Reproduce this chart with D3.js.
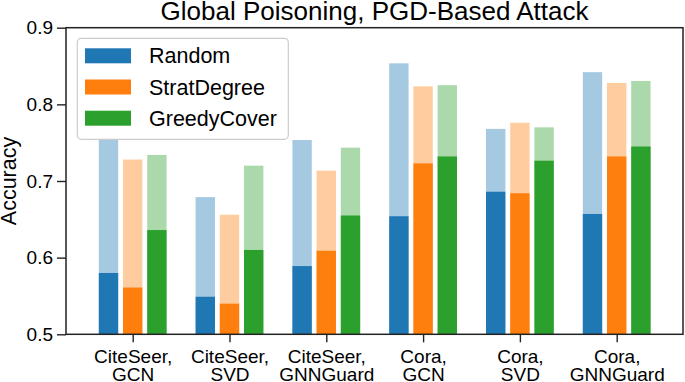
<!DOCTYPE html>
<html lang="en">
<head>
  <meta charset="UTF-8">
  <title>Global Poisoning, PGD-Based Attack</title>
  <script src="https://d3js.org/d3.v7.min.js"></script>
  <style>
    body { margin: 0; background: #fff; }
    text { font-family: "Liberation Sans", Arial, Helvetica, sans-serif; fill: #000; }
  </style>
</head>
<body>
  <svg width="685" height="382"></svg>
  <script>
    // data
    var categories = ["CiteSeer,\nGCN", "CiteSeer,\nSVD", "CiteSeer,\nGNNGuard", "Cora,\nGCN", "Cora,\nSVD", "Cora,\nGNNGuard"];
    var seriesNames = ["Random", "StratDegree", "GreedyCover"];
    var colors = ["#1f77b4", "#ff7f0e", "#2ca02c"];

    // light bars (clean accuracy) and dark bars (after poisoning)
    var randomClean = [0.755, 0.679, 0.7535, 0.8535, 0.768, 0.842];
    var randomPois = [0.580, 0.549, 0.589, 0.654, 0.686, 0.657];
    var stratClean = [0.728, 0.656, 0.7135, 0.8235, 0.776, 0.828];
    var stratPois = [0.561, 0.540, 0.609, 0.723, 0.684, 0.732];
    var greedyClean = [0.734, 0.720, 0.7435, 0.825, 0.770, 0.8305];
    var greedyPois = [0.636, 0.610, 0.655, 0.732, 0.7265, 0.745];

    var yTicks = [0.5, 0.6, 0.7, 0.8, 0.9];

    var clean = [randomClean, stratClean, greedyClean];
    var pois = [randomPois, stratPois, greedyPois];

    var svg = d3.select("svg");
    var marge = { top: 27.7, bottom: 334.3, left: 66, right: 683 };

    var x = d3.scaleLinear().domain([-0.689, 5.685]).range([marge.left, marge.right]);
    var y = d3.scaleLinear().domain([0.5, 0.9]).range([marge.bottom, marge.top]);

    var barW = 0.2, offset = 0.25;

    // flatten into rows for drawing
    var rows = [];
    seriesNames.forEach(function (s, si) {
      categories.forEach(function (c, ci) {
        rows.push({ s: si, c: ci, clean: clean[si][ci], pois: pois[si][ci] });
      });
    });

    var g = svg.append("g");

    // light bars
    g.selectAll(".light").data(rows).enter().append("rect")
      .attr("x", function (d) { return x(d.c + (d.s - 1) * offset - barW / 2); })
      .attr("width", function () { return x(barW) - x(0); })
      .attr("y", function (d) { return y(d.clean); })
      .attr("height", function (d) { return y(0.5) - y(d.clean); })
      .attr("fill", function (d) { return colors[d.s]; })
      .attr("fill-opacity", 0.4);

    // dark bars
    g.selectAll(".dark").data(rows).enter().append("rect")
      .attr("x", function (d) { return x(d.c + (d.s - 1) * offset - barW / 2); })
      .attr("width", function () { return x(barW) - x(0); })
      .attr("y", function (d) { return y(d.pois); })
      .attr("height", function (d) { return y(0.5) - y(d.pois); })
      .attr("fill", function (d) { return colors[d.s]; });

    // y axis
    var yAxis = d3.axisLeft(y).tickValues(yTicks).tickFormat(d3.format(".1f")).tickSize(9).tickPadding(4);
    var ya = svg.append("g").attr("transform", "translate(" + marge.left + ",0)").call(yAxis);
    ya.select(".domain").remove();
    ya.selectAll("line").attr("stroke", "#222").attr("stroke-width", 1.4);
    ya.selectAll("text").style("font-size", "19px").attr("fill", "#000");

    // x axis
    var xAxis = d3.axisBottom(x).tickValues(d3.range(categories.length)).tickSize(8).tickFormat("");
    var xa = svg.append("g").attr("transform", "translate(0," + marge.bottom + ")").call(xAxis);
    xa.select(".domain").remove();
    xa.selectAll("line").attr("stroke", "#222").attr("stroke-width", 1.4);
    xa.selectAll(".tick").append("text")
      .attr("text-anchor", "middle")
      .style("font-size", "19px")
      .each(function (d) {
        var lines = categories[d].split("\n");
        var t = d3.select(this);
        lines.forEach(function (l, i) {
          t.append("tspan").attr("x", 0).attr("y", 28.3 + i * 18).text(l);
        });
      });

    // frame
    svg.append("rect")
      .attr("x", marge.left).attr("y", marge.top)
      .attr("width", marge.right - marge.left).attr("height", marge.bottom - marge.top)
      .attr("fill", "none").attr("stroke", "#222").attr("stroke-width", 1.5);

    // title
    svg.append("text")
      .attr("x", (marge.left + marge.right) / 2).attr("y", 19.5)
      .attr("text-anchor", "middle")
      .style("font-size", "26px")
      .text("Global Poisoning, PGD-Based Attack");

    // y label
    svg.append("text")
      .attr("transform", "translate(16," + (marge.top + marge.bottom) / 2 + ") rotate(-90)")
      .attr("text-anchor", "middle")
      .style("font-size", "21.5px")
      .text("Accuracy");

    // legend
    var lg = svg.append("g");
    lg.append("rect")
      .attr("x", 77.3).attr("y", 38.3).attr("width", 211).attr("height", 101)
      .attr("rx", 4).attr("fill", "#fff").attr("fill-opacity", 0.8)
      .attr("stroke", "#ccc").attr("stroke-width", 1.2);
    var items = lg.selectAll(".item").data(seriesNames).enter().append("g")
      .attr("transform", function (d, i) { return "translate(0," + (55.8 + i * 31.2) + ")"; });
    items.append("rect")
      .attr("x", 85).attr("y", -7.5).attr("width", 46).attr("height", 15)
      .attr("fill", function (d, i) { return colors[i]; });
    items.append("text")
      .attr("x", 149).attr("y", 7.6)
      .style("font-size", "21.5px")
      .text(function (d) { return d; });
  </script>
</body>
</html>
